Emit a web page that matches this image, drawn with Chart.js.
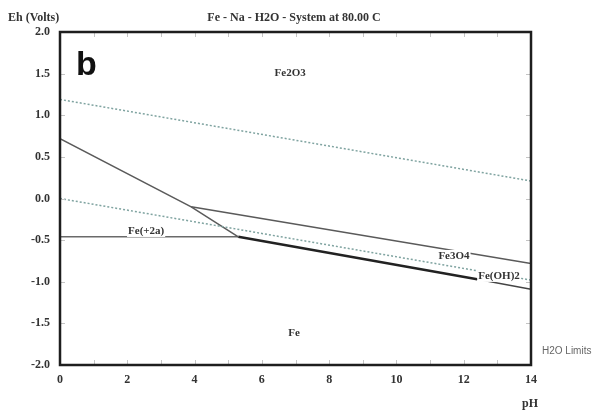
<!DOCTYPE html>
<html>
<head>
<meta charset="utf-8">
<script src="https://cdn.jsdelivr.net/npm/chart.js@4.4.0/dist/chart.umd.min.js"></script>
<style>
  html, body { margin: 0; padding: 0; background: #fff; }
  #wrap { width: 598px; height: 410px; position: relative; }
</style>
</head>
<body>
<div id="wrap"><canvas id="pourbaix"></canvas></div>
<script>
'use strict';

// water stability limits (dotted)
const phO2 = [0, 14];
const ehO2 = [1.19, 0.21];
const phH2 = [0, 14];
const ehH2 = [0.0, -0.98];

// species boundaries
const phFe2aTop = [0, 3.9, 5.3];
const ehFe2aTop = [0.72, -0.1, -0.46];
const phFe2O3 = [3.9, 14];
const ehFe2O3 = [-0.1, -0.78];
const phFe2aBase = [0, 5.3];
const ehFe2aBase = [-0.46, -0.46];
const phFe = [5.3, 12.4];
const ehFe = [-0.46, -0.97];
const phFeOH = [12.4, 14];
const ehFeOH = [-0.97, -1.09];

// region labels
const labelText = ['Fe2O3', 'Fe(+2a)', 'Fe3O4', 'Fe(OH)2', 'Fe'];
const labelPh = [6.84, 2.56, 11.71, 13.05, 6.96];
const labelEh = [1.51, -0.39, -0.69, -0.93, -1.62];

const serif = '"Liberation Serif", "DejaVu Serif", serif';

function pts(xs, ys) {
  return xs.map((x, i) => ({ x: x, y: ys[i] }));
}

function line(xs, ys, color, width, dash) {
  return {
    data: pts(xs, ys),
    showLine: true,
    borderColor: color,
    borderWidth: width,
    borderDash: dash || [],
    pointRadius: 0,
    fill: false,
  };
}

const decor = {
  id: 'decor',
  afterDatasetsDraw(chart) {
    const { ctx, chartArea: a, scales } = chart;
    const xs = scales.x, ys = scales.y;
    ctx.save();

    // faint inward ticks
    ctx.strokeStyle = '#c4c4c4';
    ctx.lineWidth = 1;
    for (let p = 1; p < 14; p++) {
      const px = Math.round(xs.getPixelForValue(p)) + 0.5;
      ctx.beginPath();
      ctx.moveTo(px, a.top); ctx.lineTo(px, a.top + 5);
      ctx.moveTo(px, a.bottom); ctx.lineTo(px, a.bottom - 5);
      ctx.stroke();
    }
    for (let e = -1.5; e < 2; e += 0.5) {
      const py = Math.round(ys.getPixelForValue(e)) + 0.5;
      ctx.beginPath();
      ctx.moveTo(a.left, py); ctx.lineTo(a.left + 5, py);
      ctx.moveTo(a.right, py); ctx.lineTo(a.right - 5, py);
      ctx.stroke();
    }

    // region labels, on a white patch over the lines
    ctx.font = 'bold 11px ' + serif;
    ctx.textAlign = 'center';
    ctx.textBaseline = 'middle';
    labelText.forEach((t, i) => {
      const px = xs.getPixelForValue(labelPh[i]);
      const py = ys.getPixelForValue(labelEh[i]);
      const w = ctx.measureText(t).width;
      ctx.fillStyle = '#fff';
      ctx.fillRect(px - w / 2 - 1, py - 6, w + 2, 12);
      ctx.fillStyle = '#333';
      ctx.fillText(t, px, py);
    });

    // frame
    ctx.strokeStyle = '#1e1e1e';
    ctx.lineWidth = 2.5;
    ctx.strokeRect(a.left, a.top, a.right - a.left, a.bottom - a.top);

    // panel letter
    ctx.fillStyle = '#111';
    ctx.font = 'bold 34px "Liberation Sans", Arial, sans-serif';
    ctx.textAlign = 'left';
    ctx.textBaseline = 'alphabetic';
    ctx.fillText('b', 76, 75);

    // titles
    ctx.fillStyle = '#333';
    ctx.font = 'bold 12px ' + serif;
    ctx.textBaseline = 'middle';
    ctx.fillText('Eh (Volts)', 8, 18);
    ctx.textAlign = 'center';
    ctx.fillText('Fe - Na - H2O - System at 80.00 C', 294, 18);
    ctx.fillText('pH', 530, 404);

    ctx.fillStyle = '#666';
    ctx.font = '10px "Liberation Sans", Arial, sans-serif';
    ctx.textAlign = 'left';
    ctx.fillText('H2O Limits', 542, 351);
    ctx.restore();
  },
};

new Chart(document.getElementById('pourbaix'), {
  type: 'scatter',
  data: {
    datasets: [
      line(phO2, ehO2, '#7fa3a0', 1.5, [2, 2]),
      line(phH2, ehH2, '#7fa3a0', 1.5, [2, 2]),
      line(phFe2aTop, ehFe2aTop, '#5a5a5a', 1.5),
      line(phFe2O3, ehFe2O3, '#5a5a5a', 1.5),
      line(phFe2aBase, ehFe2aBase, '#6a6a6a', 1.5),
      line(phFe, ehFe, '#222', 2.5),
      line(phFeOH, ehFeOH, '#444', 1.5),
    ],
  },
  options: {
    responsive: true,
    maintainAspectRatio: false,
    animation: false,
    layout: { padding: { top: 32, right: 67, left: 0, bottom: 0 } },
    plugins: {
      legend: { display: false },
      tooltip: { enabled: false },
    },
    scales: {
      x: {
        type: 'linear',
        min: 0,
        max: 14,
        grid: { display: false, drawTicks: false },
        border: { display: false },
        ticks: {
          stepSize: 2,
          padding: 8,
          color: '#333',
          font: { family: serif, weight: 'bold', size: 12 },
        },
        afterFit(scale) { scale.height = 45; },
      },
      y: {
        min: -2,
        max: 2,
        grid: { display: false, drawTicks: false },
        border: { display: false },
        ticks: {
          stepSize: 0.5,
          padding: 10,
          color: '#333',
          font: { family: serif, weight: 'bold', size: 12 },
          callback: (v) => v.toFixed(1),
        },
        afterFit(scale) { scale.width = 60; },
      },
    },
  },
  plugins: [decor],
});
</script>
</body>
</html>
